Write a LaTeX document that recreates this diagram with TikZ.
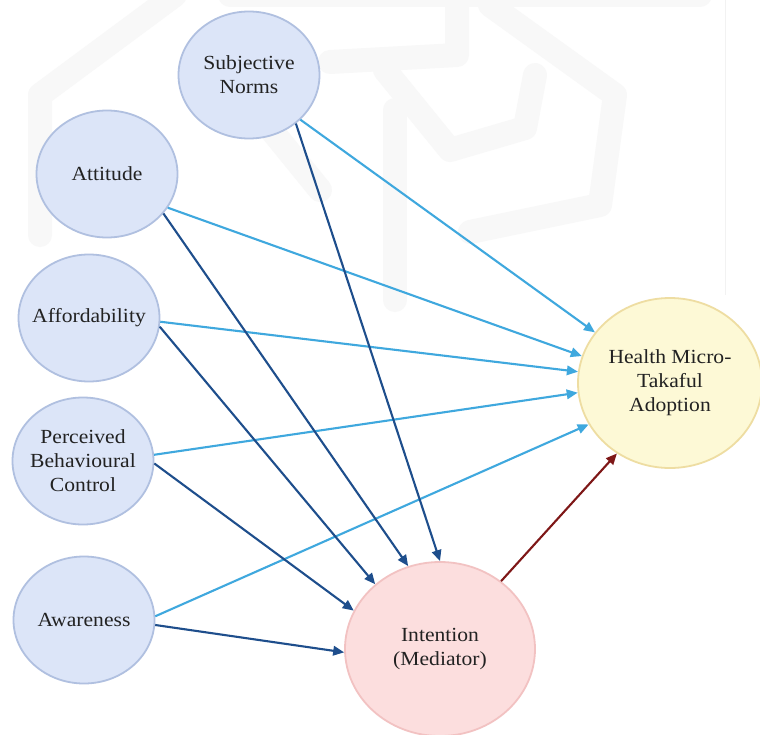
\documentclass[tikz,border=0pt]{standalone}
\usepackage{fontspec}
\setmainfont{Liberation Serif}[FakeStretch=1.08]
\usetikzlibrary{shapes.geometric,arrows.meta}

\definecolor{inpfill}{HTML}{DCE5F8}
\definecolor{inpline}{HTML}{B0C0E0}
\definecolor{hmfill}{HTML}{FDF9D6}
\definecolor{hmline}{HTML}{EEDDA2}
\definecolor{medfill}{HTML}{FCDEDE}
\definecolor{medline}{HTML}{F2C2C2}
\definecolor{lightarrow}{HTML}{3FA8DE}
\definecolor{darkarrow}{HTML}{1E4E8C}
\definecolor{redarrow}{HTML}{7E1717}
\definecolor{txt}{HTML}{222222}
\definecolor{emblem}{HTML}{F8F8F8}

\tikzset{
  oval/.style={ellipse, inner sep=0pt, line width=1.8pt, align=center,
    text=txt, font=\fontsize{20}{24}\selectfont},
  inp/.style={oval, fill=inpfill, draw=inpline, inner xsep=-16pt,
    minimum width=141pt, minimum height=127pt},
  hm/.style={oval, fill=hmfill, draw=hmline,
    minimum width=184pt, minimum height=170pt},
  med/.style={oval, fill=medfill, draw=medline,
    minimum width=190pt, minimum height=174pt},
  link/.style={line width=2.1pt, -{Triangle[length=11pt,width=9.5pt]}},
  tohm/.style={link, draw=lightarrow, fill=lightarrow},
  tomed/.style={link, draw=darkarrow, fill=darkarrow},
  medhm/.style={link, draw=redarrow, fill=redarrow},
  wm/.style={draw=emblem, line width=24pt, line join=round, line cap=round}
}

\begin{document}
\begin{tikzpicture}[x=1pt, y=-1pt]
  \useasboundingbox (0,0) rectangle (760,734);
  \fill[white] (0,0) rectangle (760,734);

  % faint background emblem
  \draw[wm] (175,-5) -- (40,95) -- (40,235);
  \draw[wm] (230,-5) -- (700,-5);
  \draw[wm] (490,5) -- (615,95) -- (600,205) -- (470,232);
  \draw[wm] (457,0) -- (457,55) -- (330,62);
  \draw[wm] (385,70) -- (450,150) -- (525,128) -- (535,75);
  \draw[wm] (395,110) -- (395,300);
  \draw[wm] (255,110) -- (320,190);
  \draw[draw=black!5, line width=0.6pt] (725,0) -- (725,295);

  % constructs
  \node[inp] (sn)  at (249,75)  {Subjective\\Norms};
  \node[inp] (att) at (107,174) {Attitude};
  \node[inp] (aff) at (89,318)  {Affordability};
  \node[inp] (pbc) at (83,461)  {Perceived\\Behavioural\\Control};
  \node[inp] (awa) at (84,620)  {Awareness};
  \node[hm]  (hm)  at (670,383) {Health Micro-\\Takaful\\Adoption};
  \node[med] (int) at (440,649) {Intention\\(Mediator)};

  % direct paths to adoption
  \draw[tohm] (sn.-41)  -- (hm.146);
  \draw[tohm] (att.-29) -- (hm.163);
  \draw[tohm] (aff.-3)  -- (hm.173);
  \draw[tohm] (pbc.5)   -- (hm.-174);
  \draw[tohm] (awa.3)   -- (hm.-153);

  % paths to the mediator
  \draw[tomed] (sn.-46)  -- (int.90);
  \draw[tomed] (att.-35) -- (int.111);
  \draw[tomed] (aff.-7)  -- (int.135);
  \draw[tomed] (pbc.-2)  -- (int.156);
  \draw[tomed] (awa.-4)  -- (int.182);

  % mediator to adoption
  \draw[medhm] (int.48) -- (hm.-127);
\end{tikzpicture}
\end{document}
